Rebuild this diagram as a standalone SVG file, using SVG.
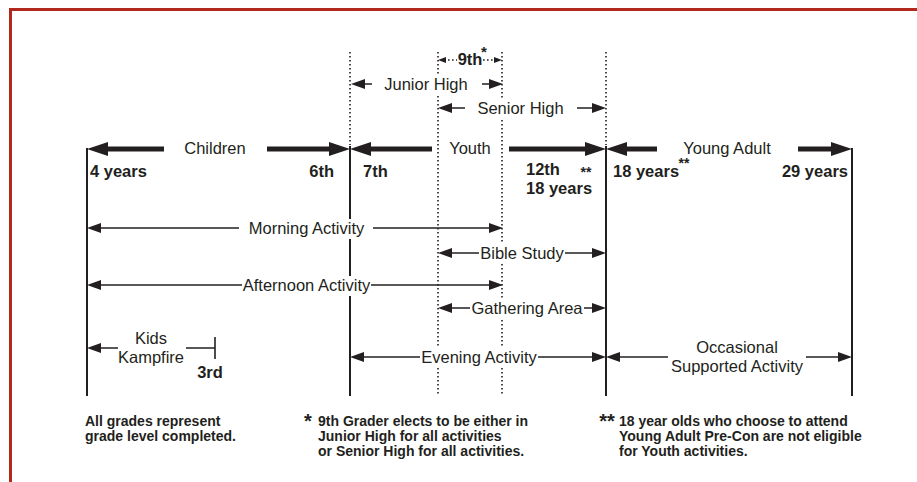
<svg xmlns="http://www.w3.org/2000/svg" width="917" height="482" viewBox="0 0 917 482">
<defs>
<style>
.t{font-family:"Liberation Sans",Arial,sans-serif;font-size:16.5px;fill:#231f20}
.b{font-weight:bold}
.fn{font-family:"Liberation Sans",Arial,sans-serif;font-size:14px;font-weight:bold;fill:#231f20}
.m{text-anchor:middle}
.e{text-anchor:end}
.solid{stroke:#231f20;stroke-width:2;fill:none}
.dot{stroke:#231f20;stroke-width:1.6;stroke-dasharray:1.6 2.4;fill:none}
.thick{stroke:#231f20;stroke-width:5;fill:none;marker-end:url(#big)}
.arr{stroke:#231f20;stroke-width:1.4;fill:none;marker-start:url(#sm);marker-end:url(#sm)}
.bg{fill:#fff}
</style>
<marker id="big" markerUnits="userSpaceOnUse" viewBox="0 0 21 14" markerWidth="21" markerHeight="14" refX="5" refY="7" orient="auto"><path d="M0,0 L21,7 L0,14 z" fill="#231f20"/></marker>
<marker id="sm" markerUnits="userSpaceOnUse" viewBox="0 0 14 10" markerWidth="14" markerHeight="10" refX="5" refY="5" orient="auto-start-reverse"><path d="M0,0 L14,5 L0,10 z" fill="#231f20"/></marker>
<marker id="tiny" markerUnits="userSpaceOnUse" viewBox="0 0 8 6" markerWidth="8" markerHeight="6" refX="2" refY="3" orient="auto-start-reverse"><path d="M0,0 L8,3 L0,6 z" fill="#231f20"/></marker>
</defs>
<rect width="917" height="482" fill="#fff"/>
<path d="M10.5,482 V9.5 H917" fill="none" stroke="#b3281d" stroke-width="3"/>

<g id="connectors">
  <line class="solid" x1="87" y1="148" x2="87" y2="396"/>
  <line class="solid" x1="350" y1="146" x2="350" y2="396"/>
  <line class="solid" x1="606" y1="146" x2="606" y2="396"/>
  <line class="solid" x1="852" y1="148" x2="852" y2="396"/>
  <line class="dot" x1="350" y1="52" x2="350" y2="145"/>
  <line class="dot" x1="606" y1="52" x2="606" y2="145"/>
  <line class="dot" x1="438" y1="52" x2="438" y2="396"/>
  <line class="dot" x1="502" y1="52" x2="502" y2="396"/>
  <line class="dot" x1="444" y1="60" x2="457" y2="60" style="marker-start:url(#tiny)"/>
  <line class="dot" x1="483" y1="60" x2="496" y2="60" style="marker-end:url(#tiny)"/>
  <line class="thick" x1="164" y1="149" x2="103" y2="149"/>
  <line class="thick" x1="267" y1="149" x2="334" y2="149"/>
  <line class="thick" x1="432" y1="149" x2="366" y2="149"/>
  <line class="thick" x1="509" y1="149" x2="590" y2="149"/>
  <line class="thick" x1="657" y1="149" x2="622" y2="149"/>
  <line class="thick" x1="798" y1="149" x2="836" y2="149"/>
  <line class="arr" x1="360" y1="84" x2="494" y2="84"/>
  <line class="arr" x1="447" y1="108" x2="597" y2="108"/>
  <line class="arr" x1="96" y1="228" x2="494" y2="228"/>
  <line class="arr" x1="447" y1="253" x2="597" y2="253"/>
  <line class="arr" x1="96" y1="285" x2="494" y2="285"/>
  <line class="arr" x1="447" y1="308" x2="597" y2="308"/>
  <line class="arr" x1="96" y1="348" x2="215" y2="348" style="marker-end:none"/>
  <line class="solid" x1="215" y1="337" x2="215" y2="359" style="stroke-width:1.6"/>
  <line class="arr" x1="359" y1="357" x2="597" y2="357"/>
  <line class="arr" x1="615" y1="357" x2="843" y2="357"/>
</g>

<g id="top-labels">
  <text class="t b m" x="470" y="65">9th</text>
  <text class="t b m" x="484" y="57" style="font-size:15px">*</text>
  <rect class="bg" x="372" y="74" width="110" height="20"/>
  <text class="t m" x="426" y="90">Junior High</text>
  <rect class="bg" x="465" y="98" width="112" height="20"/>
  <text class="t m" x="520.5" y="114">Senior High</text>
</g>

<g id="children">
  <text class="t m" x="215" y="154">Children</text>
  <text class="t b" x="90" y="177">4 years</text>
  <text class="t b e" x="334" y="177">6th</text>
</g>
<g id="youth">
  <text class="t m" x="470" y="154">Youth</text>
  <text class="t b" x="363" y="177">7th</text>
  <text class="t b" x="526" y="175">12th</text>
  <text class="t b" x="526" y="194">18 years</text>
  <text class="t b m" x="586" y="177" style="font-size:14px">**</text>
</g>
<g id="young-adult">
  <text class="t m" x="727" y="154">Young Adult</text>
  <text class="t b" x="613" y="177">18 years</text>
  <text class="t b m" x="684" y="168" style="font-size:14px">**</text>
  <text class="t b e" x="848" y="177">29 years</text>
</g>

<g id="morning-activity">
  <rect class="bg" x="239" y="219" width="134" height="20"/>
  <text class="t m" x="306.5" y="234">Morning Activity</text>
</g>
<g id="bible-study">
  <rect class="bg" x="479" y="244" width="86" height="19"/>
  <text class="t m" x="522" y="259">Bible Study</text>
</g>
<g id="afternoon-activity">
  <rect class="bg" x="242" y="276" width="129" height="20"/>
  <text class="t m" x="306.5" y="291">Afternoon Activity</text>
</g>
<g id="gathering-area">
  <rect class="bg" x="470" y="299" width="114" height="19"/>
  <text class="t m" x="527" y="314">Gathering Area</text>
</g>
<g id="kids-kampfire">
  <rect class="bg" x="118" y="330" width="68" height="38"/>
  <text class="t m" x="151" y="344">Kids</text>
  <text class="t m" x="151" y="363">Kampfire</text>
  <text class="t b m" x="210" y="378">3rd</text>
</g>
<g id="evening-activity">
  <rect class="bg" x="420" y="346" width="118" height="22"/>
  <text class="t m" x="479" y="363">Evening Activity</text>
</g>
<g id="occasional-activity">
  <rect class="bg" x="668" y="337" width="138" height="42"/>
  <text class="t m" x="737" y="353">Occasional</text>
  <text class="t m" x="737" y="372">Supported Activity</text>
</g>

<g id="footnotes">
  <text class="fn" x="85" y="426">All grades represent</text>
  <text class="fn" x="85" y="441">grade level completed.</text>
  <text class="fn m" x="308" y="428" style="font-size:20px">*</text>
  <text class="fn" x="318" y="426">9th Grader elects to be either in</text>
  <text class="fn" x="318" y="441">Junior High for all activities</text>
  <text class="fn" x="318" y="456">or Senior High for all activities.</text>
  <text class="fn m" x="607" y="428" style="font-size:20px">**</text>
  <text class="fn" x="619" y="426">18 year olds who choose to attend</text>
  <text class="fn" x="619" y="441">Young Adult Pre-Con are not eligible</text>
  <text class="fn" x="619" y="456">for Youth activities.</text>
</g>
</svg>
